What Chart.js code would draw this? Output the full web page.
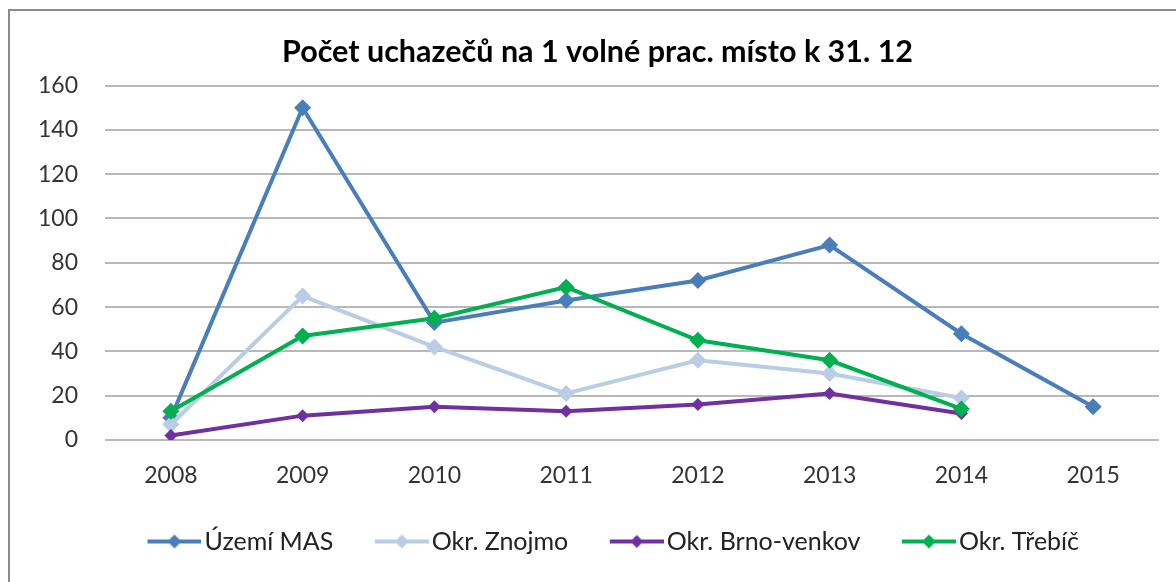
<!DOCTYPE html>
<html>
<head>
<meta charset="utf-8">
<script src="https://cdn.jsdelivr.net/npm/chart.js@4"></script>
<style>
  body { margin: 0; background: #fff; }
  #wrap { position: relative; width: 1176px; height: 582px; overflow: hidden; }
  #frame { position: absolute; left: 8px; top: 9px; width: 1200px; height: 600px;
           border-left: 2px solid #8c8c8c; border-top: 2px solid #8c8c8c; }
  canvas { position: absolute; left: 0; top: 0; }
</style>
</head>
<body>
<div id="wrap">
  <div id="frame"></div>
  <canvas id="myChart" width="1176" height="582"></canvas>
</div>
<script>
const years = ["2008", "2009", "2010", "2011", "2012", "2013", "2014", "2015"];
const uzemiMas = [10, 150, 53, 63, 72, 88, 48, 15];
const okrZnojmo = [7, 65, 42, 21, 36, 30, 19, null];
const okrBrnoVenkov = [2, 11, 15, 13, 16, 21, 12, null];
const okrTrebic = [13, 47, 55, 69, 45, 36, 14, null];
const yTicks = [0, 20, 40, 60, 80, 100, 120, 140, 160];

const FONT = "Lato, 'Open Sans', sans-serif";

// line + diamond swatch for legend (left part transparent so the line sits next to the text)
function swatch(color, r) {
  const c = document.createElement("canvas");
  c.width = 66;
  c.height = 20;
  const g = c.getContext("2d");
  g.strokeStyle = color;
  g.lineWidth = 4;
  g.beginPath();
  g.moveTo(12, 10);
  g.lineTo(66, 10);
  g.stroke();
  g.fillStyle = color;
  g.beginPath();
  g.moveTo(39, 10 - r);
  g.lineTo(39 + r, 10);
  g.lineTo(39, 10 + r);
  g.lineTo(39 - r, 10);
  g.closePath();
  g.fill();
  return c;
}

// later series are painted on top, like in the original
function series(label, data, color, radius, order) {
  return {
    label: label,
    data: data,
    order: order,
    borderColor: color,
    backgroundColor: color,
    borderWidth: 4,
    pointStyle: "rectRot",
    pointRadius: radius,
    pointBorderWidth: 0,
    pointBackgroundColor: color,
    tension: 0,
    spanGaps: false,
    legendSwatch: swatch(color, Math.min(radius, 7)),
  };
}

// title and legend are centred a bit right of the plot in the original
const shiftBlocks = {
  id: "shiftBlocks",
  afterLayout(chart) {
    chart.titleBlock.left += 36;
    chart.legend.left += 65;
  },
};

const ctx = document.getElementById("myChart").getContext("2d");

const lineChart = new Chart(ctx, {
  type: "line",
  data: {
    labels: years,
    datasets: [
      series("Území MAS", uzemiMas, "#4a7ebb", 8.5, 4),
      series("Okr. Znojmo", okrZnojmo, "#b9cde5", 8.5, 3),
      series("Okr. Brno-venkov", okrBrnoVenkov, "#7030a0", 6.5, 2),
      series("Okr. Třebíč", okrTrebic, "#00b050", 8.5, 1),
    ],
  },
  plugins: [shiftBlocks],
  options: {
    responsive: false,
    animation: false,
    layout: { padding: { top: 10, right: 17, bottom: 18, left: 0 } },
    plugins: {
      title: {
        display: true,
        text: "Počet uchazečů na 1 volné prac. místo k 31. 12",
        color: "#000",
        font: { family: FONT, size: 30.5, weight: "bold", lineHeight: 1.2 },
        padding: { top: 24, bottom: 15 },
      },
      legend: {
        display: true,
        position: "bottom",
        labels: {
          color: "#222",
          font: { family: FONT, size: 25 },
          usePointStyle: true,
          pointStyleWidth: 47,
          padding: 39,
          generateLabels: (chart) =>
            chart.data.datasets.map((ds, i) => ({
              text: ds.label,
              pointStyle: ds.legendSwatch,
              fillStyle: ds.borderColor,
              strokeStyle: ds.borderColor,
              lineWidth: 0,
              hidden: false,
              datasetIndex: i,
              fontColor: "#222",
            })),
        },
      },
      tooltip: { enabled: false },
    },
    scales: {
      x: {
        offset: true,
        grid: { display: false, drawTicks: false },
        border: { display: false },
        ticks: { color: "#333", font: { family: FONT, size: 23 }, padding: 22 },
        afterFit: (scale) => {
          scale.height = 50;
        },
      },
      y: {
        min: 0,
        max: 160,
        afterBuildTicks: (scale) => {
          scale.ticks = yTicks.map((v) => ({ value: v }));
        },
        afterFit: (scale) => {
          scale.width = 105;
        },
        grid: { color: "#b8b8b8", lineWidth: 2, drawTicks: false },
        border: { display: false },
        ticks: { color: "#333", font: { family: FONT, size: 23 }, padding: 27 },
      },
    },
  },
});
</script>
</body>
</html>
